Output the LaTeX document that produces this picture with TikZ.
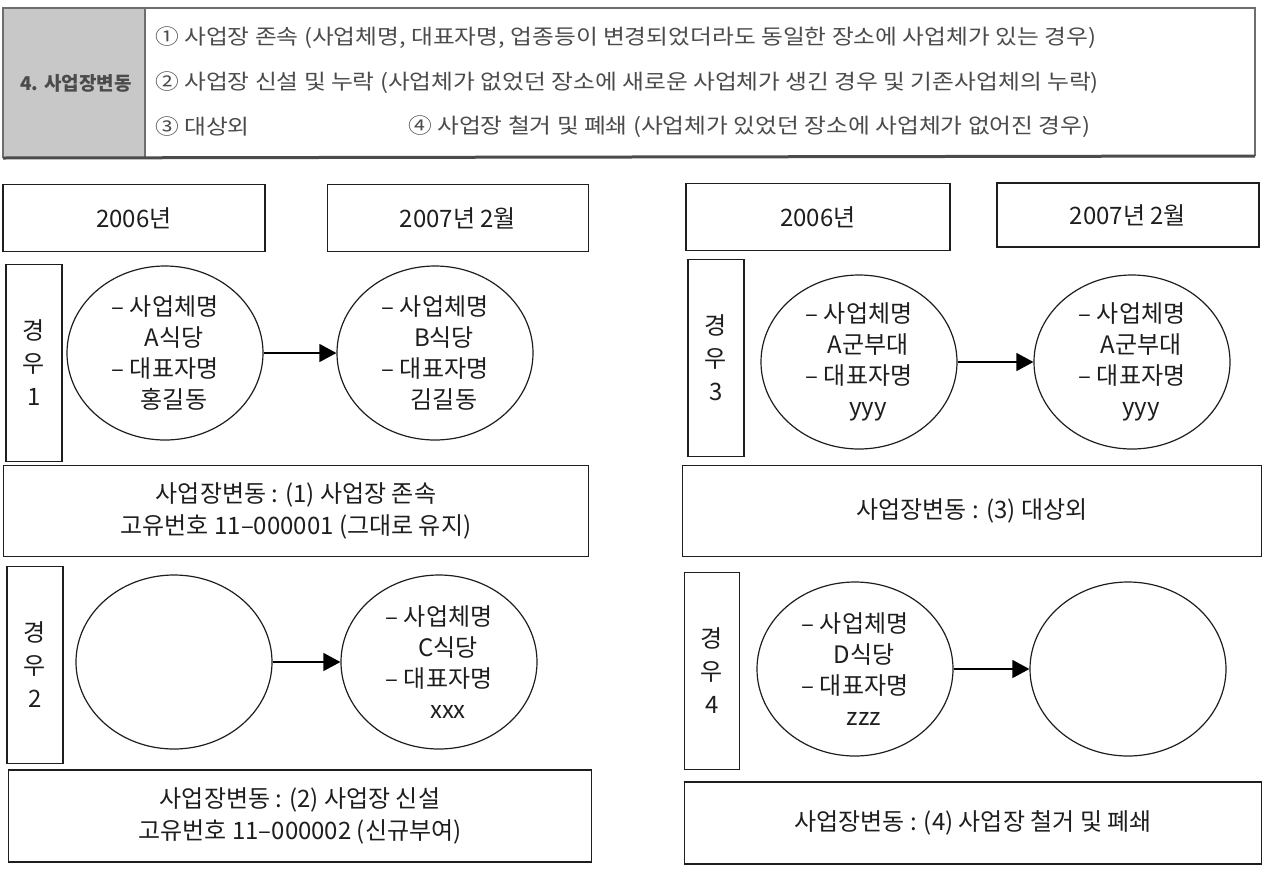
\documentclass[tikz,border=0pt]{standalone}
\usepackage{fontspec}
\setmainfont{Noto Sans CJK KR}
\newfontfamily\headfont[FakeStretch=1.13]{Noto Sans CJK KR}
\usepackage{tikz}
\usetikzlibrary{positioning,shapes.geometric,arrows.meta}
\definecolor{inkgray}{RGB}{30,30,30}
\definecolor{cellgray}{RGB}{200,200,200}
\definecolor{headtext}{RGB}{75,75,75}
\definecolor{rulegray}{RGB}{110,110,110}

\begin{document}
\begin{tikzpicture}[x=1pt, y=-1pt,
    every node/.style={font=\fontsize{24}{31}\selectfont, text=inkgray, align=center, inner sep=0pt},
    yearBox/.style={rectangle, draw=inkgray, line width=1.5pt, minimum height=67pt},
    caseBox/.style={rectangle, draw=inkgray, line width=1.5pt, minimum width=56pt, minimum height=197pt, font=\fontsize{24}{33}\selectfont},
    siteNode/.style={ellipse, draw=inkgray, line width=1.2pt, minimum width=196pt, minimum height=174pt},
    changeBox/.style={rectangle, draw=inkgray, line width=1.5pt, font=\fontsize{24}{32}\selectfont},
    headLine/.style={anchor=west, text=headtext, font=\headfont\fontsize{21}{26}\selectfont},
    flowLine/.style={draw=black, line width=1.3pt, -{Triangle[length=17pt,width=18pt]}}
]
    \useasboundingbox (0,0) rectangle (1264,868);

    % header table
    \fill [cellgray] (3,8) rectangle (145,158);
    \draw [rulegray, line width=2pt] (3,158) -- (3,8) -- (1255,8) -- (1255,156);
    \draw [rulegray, line width=1.5pt] (145,8) -- (145,158);
    \draw [inkgray!80, line width=3pt] (3,158) -- (1255,156);
    \node [text=headtext, font=\bfseries\fontsize{19}{24}\selectfont] (title) at (76,83) {4. 사업장변동};
    \node [headLine] (rule1) at (155,38) {① 사업장 존속 (사업체명, 대표자명, 업종등이 변경되었더라도 동일한 장소에 사업체가 있는 경우)};
    \node [headLine] (rule2) at (155,83) {② 사업장 신설 및 누락 (사업체가 없었던 장소에 새로운 사업체가 생긴 경우 및 기존사업체의 누락)};
    \node [headLine] (rule3) at (155,127) {③ 대상외};
    \node [headLine] (rule4) at (408,127) {④ 사업장 철거 및 폐쇄 (사업체가 있었던 장소에 사업체가 없어진 경우)};

    % left panel
    \node [yearBox, minimum width=262pt] (yearL1) at (134,218) {2006년};
    \node [yearBox, minimum width=261pt] (yearL2) at (458,218) {2007년 2월};

    \node [caseBox] (case1) at (34,363) {경\\우\\1};
    \node [siteNode] (site1a) at (165,353) {– 사업체명\\\hspace*{0.75em}A식당\\– 대표자명\\\hspace*{0.75em}홍길동};
    \node [siteNode] (site1b) at (435,353) {– 사업체명\\\hspace*{0.75em}B식당\\– 대표자명\\\hspace*{0.75em}김길동};
    \node [changeBox, minimum width=585pt, minimum height=91pt] (change1) at (296,511) {사업장변동 : (1) 사업장 존속\\고유번호 11–000001 (그대로 유지)};

    \node [caseBox] (case2) at (35,665) {경\\우\\2};
    \node [siteNode] (site2a) at (174,662) {};
    \node [siteNode] (site2b) at (439,662) {– 사업체명\\\hspace*{0.75em}C식당\\– 대표자명\\\hspace*{0.75em}xxx};
    \node [changeBox, minimum width=583pt, minimum height=92pt] (change2) at (300,816) {사업장변동 : (2) 사업장 신설\\고유번호 11–000002 (신규부여)};

    % right panel
    \node [yearBox, minimum width=264pt] (yearR1) at (818,217) {2006년};
    \node [yearBox, minimum width=262pt, minimum height=64pt] (yearR2) at (1128,215) {2007년 2월};

    \node [caseBox] (case3) at (716,358) {경\\우\\3};
    \node [siteNode] (site3a) at (859,362) {– 사업체명\\\hspace*{0.75em}A군부대\\– 대표자명\\\hspace*{0.75em}yyy};
    \node [siteNode] (site3b) at (1132,362) {– 사업체명\\\hspace*{0.75em}A군부대\\– 대표자명\\\hspace*{0.75em}yyy};
    \node [changeBox, minimum width=579pt, minimum height=91pt] (change3) at (972,511) {사업장변동 : (3) 대상외};

    \node [caseBox, minimum width=55pt] (case4) at (712,671) {경\\우\\4};
    \node [siteNode] (site4a) at (855,669) {– 사업체명\\\hspace*{0.75em}D식당\\– 대표자명\\\hspace*{0.75em}zzz};
    \node [siteNode] (site4b) at (1128,669) {};
    \node [changeBox, minimum width=577pt, minimum height=82pt] (change4) at (973,823) {사업장변동 : (4) 사업장 철거 및 폐쇄};

    \path [flowLine] (site1a) -- (site1b);
    \path [flowLine] (site2a) -- (site2b);
    \path [flowLine] (site3a) -- (site3b);
    \path [flowLine] (site4a) -- (site4b);
\end{tikzpicture}
\end{document}
